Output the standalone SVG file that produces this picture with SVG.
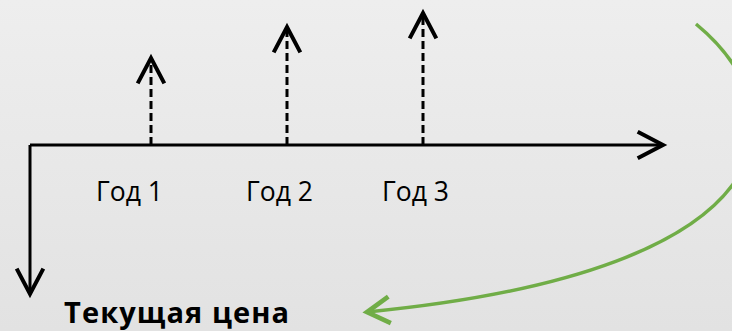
<svg xmlns="http://www.w3.org/2000/svg" width="732" height="331" viewBox="0 0 732 331">
  <style>
    .axis { fill: none; stroke: #000; stroke-width: 3; }
    .flow { fill: none; stroke: #000; stroke-width: 3; stroke-dasharray: 8 4; }
    .green { fill: none; stroke: #70ad47; stroke-width: 3.5; }
    .lbl { font-family: "Open Sans", "Noto Sans", sans-serif; font-size: 26.5px; fill: #000; }
    .title { font-family: "Open Sans", "Noto Sans", sans-serif; font-size: 29px; font-weight: bold; letter-spacing: 1.1px; fill: #000; }
  </style>
  <defs>
    <linearGradient id="bg" x1="0" y1="0" x2="0" y2="1">
      <stop offset="0" stop-color="#eeeeee"/>
      <stop offset="1" stop-color="#e2e2e2"/>
    </linearGradient>
    <marker id="ah" markerUnits="userSpaceOnUse" markerWidth="40" markerHeight="40" viewBox="-25 -15 30 30" refX="0" refY="0" orient="auto" overflow="visible">
      <path d="M-19,-10 L0,0 L-19,10" fill="none" stroke="#000" stroke-width="3"/>
    </marker>
    <marker id="ahg" markerUnits="userSpaceOnUse" markerWidth="40" markerHeight="40" viewBox="-25 -15 30 30" refX="0" refY="0" orient="auto" overflow="visible">
      <path d="M-17,-10 L0,0 L-17,10" fill="none" stroke="#70ad47" stroke-width="3.5"/>
    </marker>
  </defs>
  <rect x="0" y="0" width="732" height="331" fill="url(#bg)"/>

  <g id="connectors">
    <path id="time-axis" class="axis" d="M30,145 L663,145" marker-end="url(#ah)"/>
    <path id="value-axis" class="axis" d="M30,145 L30,294" marker-end="url(#ah)"/>
    <path id="cf1" class="flow" d="M151,145 L151,58" marker-end="url(#ah)"/>
    <path id="cf2" class="flow" d="M287,145 L287,27" marker-end="url(#ah)"/>
    <path id="cf3" class="flow" d="M423,145 L423,13" marker-end="url(#ah)"/>
    <path id="discount" class="green" d="M696,24 C800,110 800,270 367,312" marker-end="url(#ahg)"/>
  </g>

  <g id="year1"><text class="lbl" x="96" y="201">Год 1</text></g>
  <g id="year2"><text class="lbl" x="246" y="201">Год 2</text></g>
  <g id="year3"><text class="lbl" x="382" y="201">Год 3</text></g>
  <g id="current-price"><text class="title" x="64" y="323">Текущая цена</text></g>
</svg>
